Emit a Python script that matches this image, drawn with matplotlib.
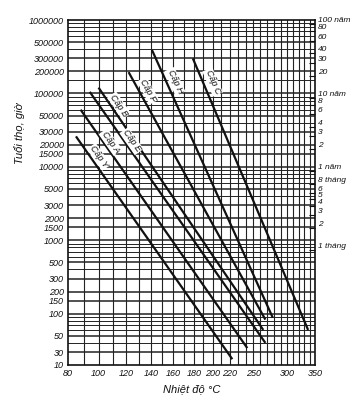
import numpy as np
import matplotlib
matplotlib.use("Agg")
import matplotlib.pyplot as plt
from matplotlib.ticker import FixedLocator, FixedFormatter, NullFormatter

# ---------------- data ----------------
classes = ["Cấp Y", "Cấp A", "Cấp E", "Cấp B", "Cấp F", "Cấp H", "Cấp C"]
t_start = [85, 88, 94, 100, 122, 141, 179]          # °C
life_start = [26000, 60000, 105000, 120000, 195000, 390000, 300000]  # hours
t_end = [223, 242, 267, 264, 267, 278, 337]
life_end = [24, 34, 40, 60, 83, 88, 60]

x_ticks = [80, 100, 120, 140, 160, 180, 200, 220, 250, 300, 350]
y_ticks = [1000000, 500000, 300000, 200000, 100000, 50000, 30000, 20000, 15000,
           10000, 5000, 3000, 2000, 1500, 1000, 500, 300, 200, 150, 100, 50, 30, 20]
y_labels = ["1000000", "500000", "300000", "200000", "100000", "50000", "30000",
            "20000", "15000", "10000", "5000", "3000", "2000", "1500", "1000",
            "500", "300", "200", "150", "100", "50", "30", "10"]
right_hours = [876000, 700800, 525600, 350400, 262800, 175200, 87600, 70080, 52560,
               35040, 26280, 17520, 8760, 5840, 4380, 3650, 2920, 2190, 1460, 730]
right_labels = ["100 năm", "80", "60", "40", "30", "20", "10 năm", "8", "6", "4",
                "3", "2", "1 năm", "8 tháng", "6", "5", "4", "3", "2", "1 tháng"]

# ---------------- figure ----------------
plt.rcParams['font.family'] = ['Liberation Sans', 'DejaVu Sans']
fig = plt.figure(figsize=(3.54, 3.96), dpi=100)
ax = fig.add_axes([68/354, 1-365/396, (315-68)/354, (365-20)/396])

fwd = lambda T: -1000.0/(np.asarray(T, dtype=float) + 273.0)
inv = lambda u: -1000.0/np.asarray(u, dtype=float) - 273.0
ax.set_xscale('function', functions=(fwd, inv))
ax.set_yscale('log')
ax.set_xlim(80, 350)
ax.set_ylim(20, 1000000)

# grid
for T in range(90, 350, 10):
    ax.axvline(T, color='#222222', lw=0.8, zorder=1)
minor_vals = []
for d in range(1, 6):
    for k in [1, 1.5, 2, 3, 4, 5, 6, 7, 8, 9]:
        minor_vals.append(k*10**d)
for v in minor_vals:
    if 20 < v < 1000000:
        lw = 1.1 if v in y_ticks else 0.7
        ax.axhline(v, color='#222222', lw=lw, zorder=1)

# lines
ink = '#111111'
ax.figure.canvas.draw()
for name, t0, h0, t1, h1, frac, off in zip(
        classes, t_start, life_start, t_end, life_end,
        [0.11, 0.15, 0.21, 0.09, 0.09, 0.13, 0.10],
        [7, 6, 6, 7, 8, 8, 9]):
    ax.plot([t0, t1], [h0, h1], color=ink, lw=1.6, zorder=3, solid_capstyle='butt')
    p0 = ax.transData.transform((t0, h0))
    p1 = ax.transData.transform((t1, h1))
    d = p1 - p0
    L = np.hypot(*d)
    u = d / L
    perp = np.array([-u[1], u[0]])
    if perp[0] < 0:
        perp = -perp
    pt = p0 + d*frac + perp*off*1.0
    ang = np.degrees(np.arctan2(d[1], d[0]))
    xy = ax.transData.inverted().transform(pt)
    ax.text(xy[0], xy[1], name, rotation=ang, rotation_mode='anchor',
            ha='center', va='center', fontsize=6.5, style='italic',
            color=ink, zorder=4,
            bbox=dict(boxstyle='square,pad=0.1', fc='white', ec='none'))

# ticks
ax.xaxis.set_major_locator(FixedLocator(x_ticks))
ax.xaxis.set_major_formatter(FixedFormatter([str(v) for v in x_ticks]))
ax.xaxis.set_minor_formatter(NullFormatter())
ax.yaxis.set_major_locator(FixedLocator(y_ticks))
ax.yaxis.set_major_formatter(FixedFormatter(y_labels))
ax.yaxis.set_minor_locator(FixedLocator([]))
ax.xaxis.set_minor_locator(FixedLocator([]))
ax.tick_params(axis='both', length=0, labelsize=6.5, pad=3, colors=ink)
for lab in ax.get_xticklabels() + ax.get_yticklabels():
    lab.set_style('italic')
for s in ax.spines.values():
    s.set_linewidth(1.2)
    s.set_color(ink)

ax2 = ax.twinx()
ax2.set_yscale('log')
ax2.set_ylim(ax.get_ylim())
ax2.yaxis.set_major_locator(FixedLocator(right_hours))
ax2.yaxis.set_major_formatter(FixedFormatter(right_labels))
ax2.yaxis.set_minor_locator(FixedLocator([]))
ax2.tick_params(axis='y', direction='in', length=4, width=0.8, labelsize=6, pad=2, colors=ink)
for lab in ax2.get_yticklabels():
    lab.set_style('italic')
    lab.set_va('bottom')
for s in ax2.spines.values():
    s.set_visible(False)

ax.set_ylabel("Tuổi thọ, giờ", fontsize=8, style='italic', color=ink)
ax.yaxis.set_label_coords(-0.175, 0.672)
ax.set_xlabel("Nhiệt độ °C", fontsize=8, style='italic', labelpad=4, color=ink)

fig.savefig("out.png", dpi=100, facecolor='white')
